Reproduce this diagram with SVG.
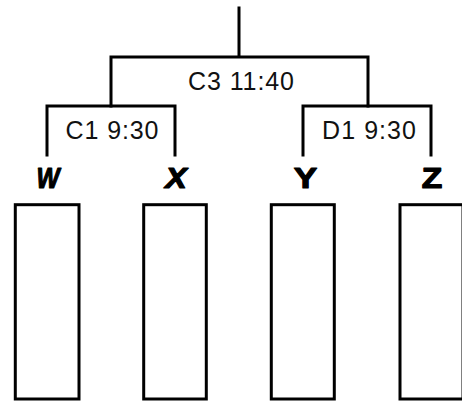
<svg xmlns="http://www.w3.org/2000/svg" width="462" height="401" viewBox="0 0 462 401">
<style>
.ln{stroke:#000;stroke-width:3;fill:none;stroke-linecap:square}
.bx{stroke:#000;stroke-width:3;fill:#fff}
.lbl{font-family:"Liberation Sans",Arial,sans-serif;font-size:25px;fill:#111;text-anchor:middle}
.nm{font-family:"Liberation Sans",Arial,sans-serif;font-size:29px;font-weight:bold;fill:#000;stroke:#000;stroke-width:1.2;stroke-linejoin:round;text-anchor:middle}
</style>
<rect width="462" height="401" fill="#fff"/>
<g id="connectors">
<path class="ln" d="M239,8 V57 M111,106 V57 H368 V106"/>
<path class="ln" d="M47,155 V106 H175 V155"/>
<path class="ln" d="M303,155 V106 H431 V155"/>
</g>
<g id="match-c3"><text class="lbl" x="241" y="90" textLength="106" lengthAdjust="spacing">C3 11:40</text></g>
<g id="match-c1"><text class="lbl" x="112" y="139" textLength="93" lengthAdjust="spacing">C1 9:30</text></g>
<g id="match-d1"><text class="lbl" x="369" y="139" textLength="94" lengthAdjust="spacing">D1 9:30</text></g>
<g id="node-w"><text class="nm" x="48" y="187.5" font-style="italic" textLength="23" lengthAdjust="spacingAndGlyphs">W</text><rect class="bx" x="15.3" y="204.7" width="63.7" height="194.3"/></g>
<g id="node-x"><text class="nm" x="176" y="187.5" font-style="italic" textLength="21.5" lengthAdjust="spacingAndGlyphs">X</text><rect class="bx" x="143.7" y="204.7" width="62.6" height="194.3"/></g>
<g id="node-y"><text class="nm" x="305.5" y="187.5" textLength="23.5" lengthAdjust="spacingAndGlyphs">Y</text><rect class="bx" x="271.3" y="204.7" width="63" height="194.3"/></g>
<g id="node-z"><text class="nm" x="432" y="187.5" textLength="20.5" lengthAdjust="spacingAndGlyphs">Z</text><rect class="bx" x="400" y="204.7" width="63" height="194.3"/></g>
</svg>
